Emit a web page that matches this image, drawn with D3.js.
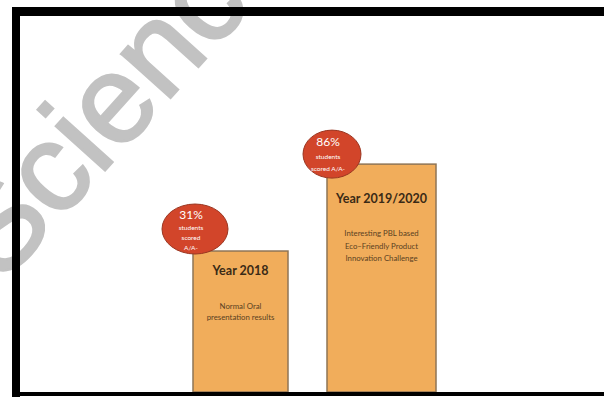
<!DOCTYPE html>
<html>
<head>
<meta charset="utf-8">
<script src="https://cdn.jsdelivr.net/npm/d3@7"></script>
<style>
  body { margin: 0; background: #fff; }
  svg { display: block; }
</style>
</head>
<body>
<svg id="chart"></svg>
<script>
// data
categories = ['Year 2018', 'Year 2019/2020']
scores = [31, 86]                       // % students scoring A/A-
scoreLabels = ['31%', '86%']
badgeLines = [['students', 'scored', 'A/A-'], ['students', 'scored A/A-']]
descLines = [['Normal Oral', 'presentation results'],
             ['Interesting PBL based', 'Eco\u2013Friendly Product', 'Innovation Challenge']]

width = 604
height = 397
barBottom = 392
barWidths = [95, 109]
titleOffset = [24, 39]      // from bar top to title baseline
descOffset = [58, 72]
descStep = [11, 12.5]

function drawChart(svgElement) {
  svg = d3.select(svgElement)
  svg.attr('xmlns', 'http://www.w3.org/2000/svg')
     .attr('width', width).attr('height', height)

  // watermark behind everything
  svg.append('text')
    .text('ScienceDirect')
    .attr('transform', 'translate(2,285) rotate(-48)')
    .attr('font-family', 'Liberation Sans, Arial, sans-serif')
    .attr('font-size', 125)
    .attr('fill', '#c2c2c2')
    .attr('stroke', '#c2c2c2')
    .attr('stroke-width', 2.5)

  x = d3.scalePoint().domain(categories).range([240.5, 381.5])
  y = d3.scaleLinear().domain([0, 100]).range([300, 142])

  data = categories.map(function(c, i) {
    return { i: i, cat: c, score: scores[i], label: scoreLabels[i],
             badge: badgeLines[i], desc: descLines[i], w: barWidths[i] }
  })

  bars = svg.selectAll('.bar').data(data).enter().append('g').attr('class', 'bar')

  bars.append('rect')
    .attr('x', function(d) { return x(d.cat) - d.w / 2 })
    .attr('y', function(d) { return y(d.score) })
    .attr('width', function(d) { return d.w })
    .attr('height', function(d) { return barBottom - y(d.score) })
    .attr('fill', '#f1ad5b')
    .attr('stroke', '#8f7556')
    .attr('stroke-width', 1.5)

  bars.append('text')
    .text(function(d) { return d.cat })
    .attr('x', function(d) { return x(d.cat) })
    .attr('y', function(d) { return y(d.score) + titleOffset[d.i] })
    .attr('text-anchor', 'middle')
    .attr('font-family', 'Lato, sans-serif')
    .attr('font-weight', 'bold')
    .attr('font-size', 12.5)
    .attr('fill', '#3a2a16')

  bars.each(function(d) {
    g = d3.select(this)
    d.desc.forEach(function(line, j) {
      g.append('text')
        .text(line)
        .attr('x', x(d.cat))
        .attr('y', y(d.score) + descOffset[d.i] + j * descStep[d.i])
        .attr('text-anchor', 'middle')
        .attr('font-family', 'Lato, sans-serif')
        .attr('font-size', 7.8)
        .attr('fill', '#5a4122')
    })
  })

  // red badges, sitting over the top-left corner of each bar
  badges = svg.selectAll('.badge').data(data).enter().append('g').attr('class', 'badge')
    .attr('transform', function(d, i) {
      var cx = x(d.cat) - d.w / 2 + (i == 0 ? 2 : 5)
      var cy = y(d.score) - (i == 0 ? 22 : 10)
      return `translate(${cx},${cy})`
    })

  badges.append('ellipse')
    .attr('rx', function(d, i) { return i == 0 ? 33 : 29 })
    .attr('ry', function(d, i) { return i == 0 ? 25 : 24 })
    .attr('fill', '#d2452a')
    .attr('stroke', '#9a3520')
    .attr('stroke-width', 1)

  badges.append('text')
    .text(function(d) { return d.label })
    .attr('x', -4).attr('y', function(d, i) { return i == 0 ? -10 : -8 })
    .attr('text-anchor', 'middle')
    .attr('font-family', 'Lato, sans-serif')
    .attr('font-size', 12)
    .attr('fill', '#fff')

  badges.each(function(d, i) {
    g = d3.select(this)
    d.badge.forEach(function(line, j) {
      g.append('text')
        .text(line)
        .attr('x', -4)
        .attr('y', (i == 0 ? 1 : 5) + j * (i == 0 ? 10 : 12))
        .attr('text-anchor', 'middle')
        .attr('font-family', 'Lato, sans-serif')
        .attr('font-size', 6.5)
        .attr('fill', '#fff')
    })
  })

  // black frame
  svg.append('rect').attr('x', 12).attr('y', 7).attr('width', width - 12).attr('height', 9).attr('fill', '#000')
  svg.append('rect').attr('x', 12).attr('y', 7).attr('width', 8).attr('height', height - 7).attr('fill', '#000')
  svg.append('rect').attr('x', 12).attr('y', 392).attr('width', width - 12).attr('height', 4).attr('fill', '#000')
}

drawChart(document.getElementById('chart'))
</script>
</body>
</html>
